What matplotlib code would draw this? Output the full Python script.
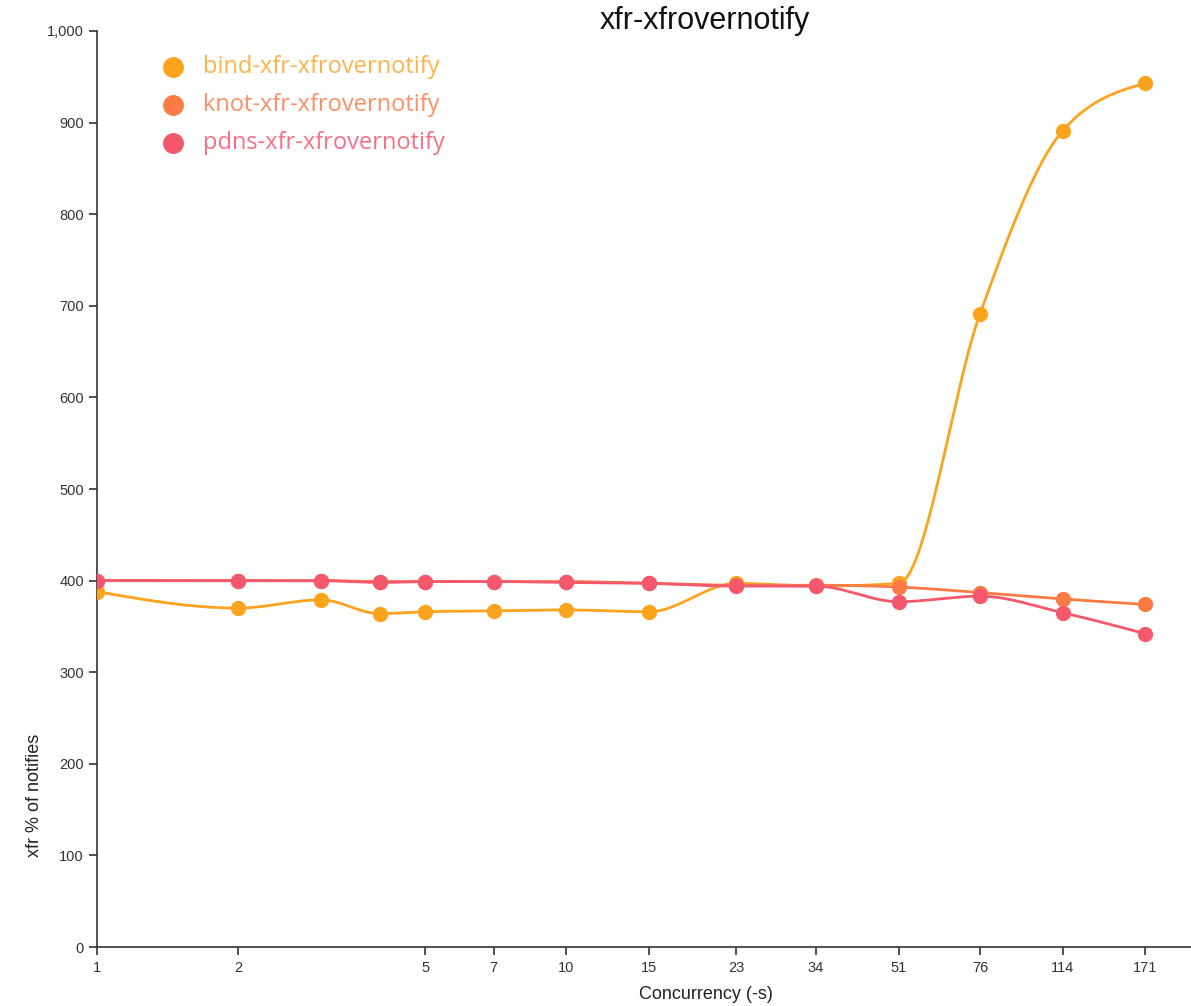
import matplotlib
matplotlib.use("Agg")
import matplotlib.pyplot as plt
import numpy as np
from matplotlib.ticker import FixedLocator, FuncFormatter, NullLocator

concurrency = [1, 2, 3, 4, 5, 7, 10, 15, 23, 34, 51, 76, 114, 171]
tick_vals = [1, 2, 5, 7, 10, 15, 23, 34, 51, 76, 114, 171]
bind = [388, 370, 379, 364, 366, 367, 368, 366, 397, 394, 397, 691, 891, 943]
knot = [400, 400, 400, 399, 399, 399, 399, 397, 395, 395, 393, 387, 380, 374]
pdns = [400, 400, 400, 398, 399, 399, 398, 397, 394, 394, 377, 383, 365, 342]
names = ["bind-xfr-xfrovernotify", "knot-xfr-xfrovernotify", "pdns-xfr-xfrovernotify"]
colors = ["#fca31e", "#fc7b45", "#f4586c"]
text_colors = ["#fdb24a", "#fc8f63", "#f57185"]


def monotone(x, y, n=30):
    # d3 curveMonotoneX, in log-x space
    x = np.asarray(x, float)
    y = np.asarray(y, float)
    h = np.diff(x)
    s = np.diff(y) / h
    t = np.zeros(len(x))
    for i in range(1, len(x) - 1):
        h0, h1, s0, s1 = h[i - 1], h[i], s[i - 1], s[i]
        p = (s0 * h1 + s1 * h0) / (h0 + h1)
        t[i] = (np.sign(s0) + np.sign(s1)) * min(abs(s0), abs(s1), 0.5 * abs(p))
    t[0] = (3 * s[0] - t[1]) / 2
    t[-1] = (3 * s[-1] - t[-2]) / 2
    xs, ys = [], []
    for i in range(len(x) - 1):
        u = np.linspace(0, 1, n)
        h00 = 2 * u**3 - 3 * u**2 + 1
        h10 = u**3 - 2 * u**2 + u
        h01 = -2 * u**3 + 3 * u**2
        h11 = u**3 - u**2
        xs.append(x[i] + u * h[i])
        ys.append(h00 * y[i] + h10 * h[i] * t[i] + h01 * y[i + 1] + h11 * h[i] * t[i + 1])
    return np.concatenate(xs), np.concatenate(ys)


plt.rcParams['font.family'] = ['Liberation Sans', 'DejaVu Sans']
fig = plt.figure(figsize=(11.91, 10.06), dpi=100)
ax = fig.add_axes([0.0814, 0.0586, 0.9186, 0.9106])

lx = np.log10(concurrency)
for series, c in zip([bind, knot, pdns], colors):
    sx, sy = monotone(lx, series)
    ax.plot(10 ** sx, sy, color=c, lw=2.0, zorder=2)
    ax.plot(concurrency, series, 'o', color=c, ms=10, zorder=3)

ax.set_xscale('log')
ax.set_xlim(1, 214)
ax.set_ylim(0, 1000)
ax.xaxis.set_major_locator(FixedLocator(tick_vals))
ax.xaxis.set_minor_locator(NullLocator())
ax.xaxis.set_major_formatter(FuncFormatter(lambda v, p: "%d" % round(v)))
ax.set_yticks(np.arange(0, 1001, 100))
ax.yaxis.set_major_formatter(FuncFormatter(lambda v, p: "{:,}".format(int(v))))
for s in ['top', 'right']:
    ax.spines[s].set_visible(False)
for s in ['left', 'bottom']:
    ax.spines[s].set_color('#333333')
    ax.spines[s].set_linewidth(1.2)
ax.tick_params(length=6, width=1.2, colors='#333333', labelsize=10.5)
ax.tick_params(axis='x', pad=4)

ax.set_xlabel("Concurrency (-s)", fontsize=13, color='#222222')
ax.xaxis.set_label_coords(0.557, -0.042)
ax.set_ylabel("xfr % of notifies", fontsize=13, color='#222222')
ax.yaxis.set_label_coords(-0.049, 0.166)
fig.text(0.592, 0.979, "xfr-xfrovernotify", ha='center', va='center', fontsize=22,
         color='#111111')

# legend drawn as markers + text in figure coords
for i, (nm, c, tc) in enumerate(zip(names, colors, text_colors)):
    yy = 1 - (67 + 38 * i) / 1006
    fig.lines.append(plt.Line2D([173 / 1191], [yy], marker='o', ms=14, color=c,
                                transform=fig.transFigure))
    fig.text(203 / 1191, yy, nm, color=tc, fontsize=17, family='Open Sans', va='center')

fig.savefig("out.png", dpi=100)
